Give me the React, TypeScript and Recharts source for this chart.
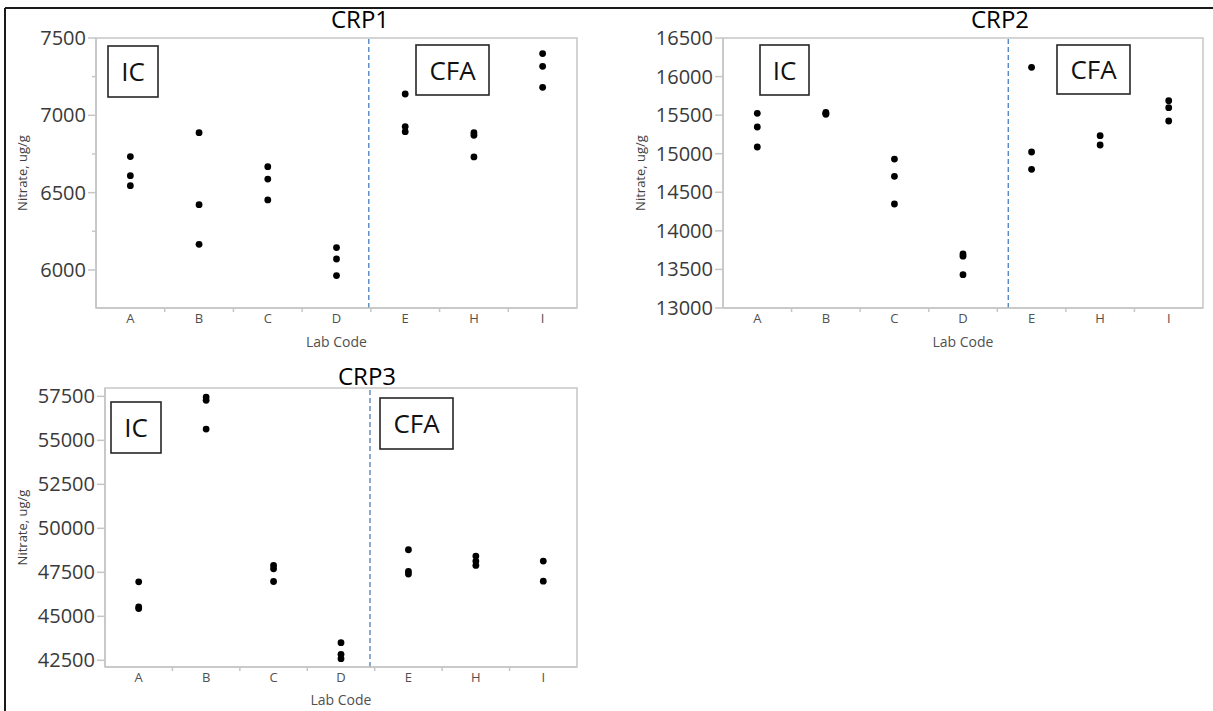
import React from "react";
import { ReferenceArea, ReferenceLine, Scatter, ScatterChart, XAxis, YAxis } from "recharts";

const labCodes = ["A", "B", "C", "D", "E", "H", "I"];

// three replicate results per lab, ug/g
const crp1Values = [
  [6733, 6610, 6545],
  [6888, 6422, 6166],
  [6668, 6588, 6453],
  [6145, 6071, 5964],
  [7138, 6927, 6894],
  [6888, 6871, 6731],
  [7399, 7317, 7181],
];
const crp2Values = [
  [15523, 15346, 15087],
  [15536, 15522, 15510],
  [14931, 14707, 14348],
  [13700, 13672, 13432],
  [16120, 15022, 14797],
  [15234, 15113],
  [15688, 15597, 15424],
];
const crp3Values = [
  [46960, 45536, 45440],
  [57462, 57272, 55639],
  [47892, 47700, 46980],
  [43504, 42840, 42593],
  [48784, 47550, 47398],
  [48423, 48138, 47892],
  [48138, 47000],
];

const crp1Ticks = [6000, 6250, 6500, 6750, 7000, 7250, 7500];
const crp2Ticks = [13000, 13500, 14000, 14500, 15000, 15500, 16000, 16500];
const crp3Ticks = [42500, 45000, 47500, 50000, 52500, 55000, 57500];

const crp1Domain = [5754, 7500];
const crp2Domain = [13000, 16500];
const crp3Domain = [42120, 57975];

// where the IC | CFA divider sits, in lab-index units
const dividers = [3.47, 3.66, 3.43];

const FONT = "'Open Sans', 'DejaVu Sans', sans-serif";
const FRAME = "#c6c6c6";

const xTicks = labCodes.flatMap((_, i) => (i === 0 ? [0] : [i - 0.5, i]));

function XTick(props: any) {
  const { x, y, payload } = props;
  const v = payload.value;
  if (Number.isInteger(v)) {
    return (
      <text x={x} y={y + 15} textAnchor="middle" fontSize={13} fill="#505050" fontFamily={FONT}>
        {labCodes[v]}
      </text>
    );
  }
  return <line x1={x} x2={x} y1={y} y2={y + 4} stroke={FRAME} strokeWidth={1.5} />;
}

function makeYTick(majorStep: number) {
  return (props: any) => {
    const { x, y, payload } = props;
    const v = payload.value;
    if (v % majorStep !== 0) {
      return <line x1={x - 4} x2={x} y1={y} y2={y} stroke={FRAME} strokeWidth={1.5} />;
    }
    return (
      <g>
        <line x1={x - 8} x2={x} y1={y} y2={y} stroke={FRAME} strokeWidth={1.5} />
        <text x={x - 10} y={y + 7} textAnchor="end" fontSize={20} fill="#3a3a3a" fontFamily={FONT}>
          {v}
        </text>
      </g>
    );
  };
}

const Dot = (p: any) => <circle cx={p.cx} cy={p.cy} r={3.4} fill="#000" />;

type PanelProps = {
  values: number[][];
  domain: number[];
  ticks: number[];
  majorStep: number;
  divider: number;
  left: number;
  top: number;
  width: number;
  height: number;
  margin: { top: number; right: number; bottom: number; left: number };
  yAxisWidth: number;
  xAxisHeight: number;
  yLabelX: number;
  xLabelOffset: number;
};

function Panel(p: PanelProps) {
  const pts = p.values.flatMap((vs, i) => vs.map((v) => ({ x: i, y: v })));
  return (
    <div style={{ position: "absolute", left: p.left, top: p.top }}>
      <ScatterChart width={p.width} height={p.height} margin={p.margin}>
        <ReferenceArea
          x1={-0.5}
          x2={6.5}
          y1={p.domain[0]}
          y2={p.domain[1]}
          fill="none"
          stroke={FRAME}
          strokeWidth={1.5}
          ifOverflow="extendDomain"
        />
        <XAxis
          type="number"
          dataKey="x"
          domain={[-0.5, 6.5]}
          ticks={xTicks}
          interval={0}
          tickSize={0}
          tickMargin={0}
          tick={(t: any) => <XTick {...t} />}
          height={p.xAxisHeight}
          stroke={FRAME}
          strokeWidth={1.5}
          allowDataOverflow
          label={{
            value: "Lab Code",
            position: "insideBottom",
            offset: p.xLabelOffset,
            fontSize: 14,
            fill: "#505050",
            fontFamily: FONT,
          }}
        />
        <YAxis
          type="number"
          dataKey="y"
          domain={p.domain}
          ticks={p.ticks}
          interval={0}
          tickSize={0}
          tickMargin={0}
          tick={makeYTick(p.majorStep)}
          width={p.yAxisWidth}
          stroke={FRAME}
          strokeWidth={1.5}
          allowDataOverflow
          label={{
            value: "Nitrate, ug/g",
            angle: -90,
            position: "insideLeft",
            offset: p.yLabelX,
            fontSize: 13,
            fill: "#404040",
            fontFamily: FONT,
            style: { textAnchor: "middle" },
          }}
        />
        <ReferenceLine x={p.divider} stroke="#4a7ebb" strokeWidth={1.3} strokeDasharray="5 3" />
        <Scatter data={pts} isAnimationActive={false} shape={Dot} />
      </ScatterChart>
    </div>
  );
}

function Box({ x, y, w, h, text }: { x: number; y: number; w: number; h: number; text: string }) {
  return (
    <g>
      <rect x={x} y={y} width={w} height={h} fill="#fff" stroke="#262626" strokeWidth={1.6} />
      <text x={x + w / 2} y={y + h / 2 + 9.5} textAnchor="middle" fontSize={26} fill="#111" fontFamily={FONT}>
        {text}
      </text>
    </g>
  );
}

export default function App() {
  return (
    <div style={{ position: "absolute", left: 0, top: 0, width: 1213, height: 711, background: "#fff" }}>
      <Panel
        values={crp1Values}
        domain={crp1Domain}
        ticks={crp1Ticks}
        majorStep={500}
        divider={dividers[0]}
        left={0}
        top={0}
        width={600}
        height={355}
        margin={{ top: 38, right: 23, bottom: 0, left: 0 }}
        yAxisWidth={96}
        xAxisHeight={47}
        yLabelX={22}
        xLabelOffset={8}
      />
      <Panel
        values={crp2Values}
        domain={crp2Domain}
        ticks={crp2Ticks}
        majorStep={500}
        divider={dividers[1]}
        left={600}
        top={0}
        width={613}
        height={355}
        margin={{ top: 38, right: 10, bottom: 0, left: 0 }}
        yAxisWidth={123}
        xAxisHeight={47}
        yLabelX={40}
        xLabelOffset={8}
      />
      <Panel
        values={crp3Values}
        domain={crp3Domain}
        ticks={crp3Ticks}
        majorStep={2500}
        divider={dividers[2]}
        left={0}
        top={355}
        width={600}
        height={356}
        margin={{ top: 33, right: 23, bottom: 0, left: 0 }}
        yAxisWidth={105}
        xAxisHeight={44}
        yLabelX={22}
        xLabelOffset={6}
      />
      <svg width={1213} height={711} style={{ position: "absolute", left: 0, top: 0, pointerEvents: "none" }}>
        <line x1={5} x2={1213} y1={8} y2={8} stroke="#1a1a1a" strokeWidth={2} />
        <line x1={5} x2={5} y1={8} y2={711} stroke="#1a1a1a" strokeWidth={2} />
        <g fontFamily={FONT} fontSize={24} fill="#000" textAnchor="middle">
          <text x={360} y={28}>CRP1</text>
          <text x={1000} y={28}>CRP2</text>
          <text x={367} y={385}>CRP3</text>
        </g>
        <Box x={108} y={46} w={50} h={51} text="IC" />
        <Box x={416} y={45} w={73} h={50} text="CFA" />
        <Box x={760} y={45} w={49} h={50} text="IC" />
        <Box x={1057} y={45} w={73} h={49} text="CFA" />
        <Box x={111} y={402} w={50} h={51} text="IC" />
        <Box x={380} y={398} w={73} h={51} text="CFA" />
      </svg>
    </div>
  );
}
